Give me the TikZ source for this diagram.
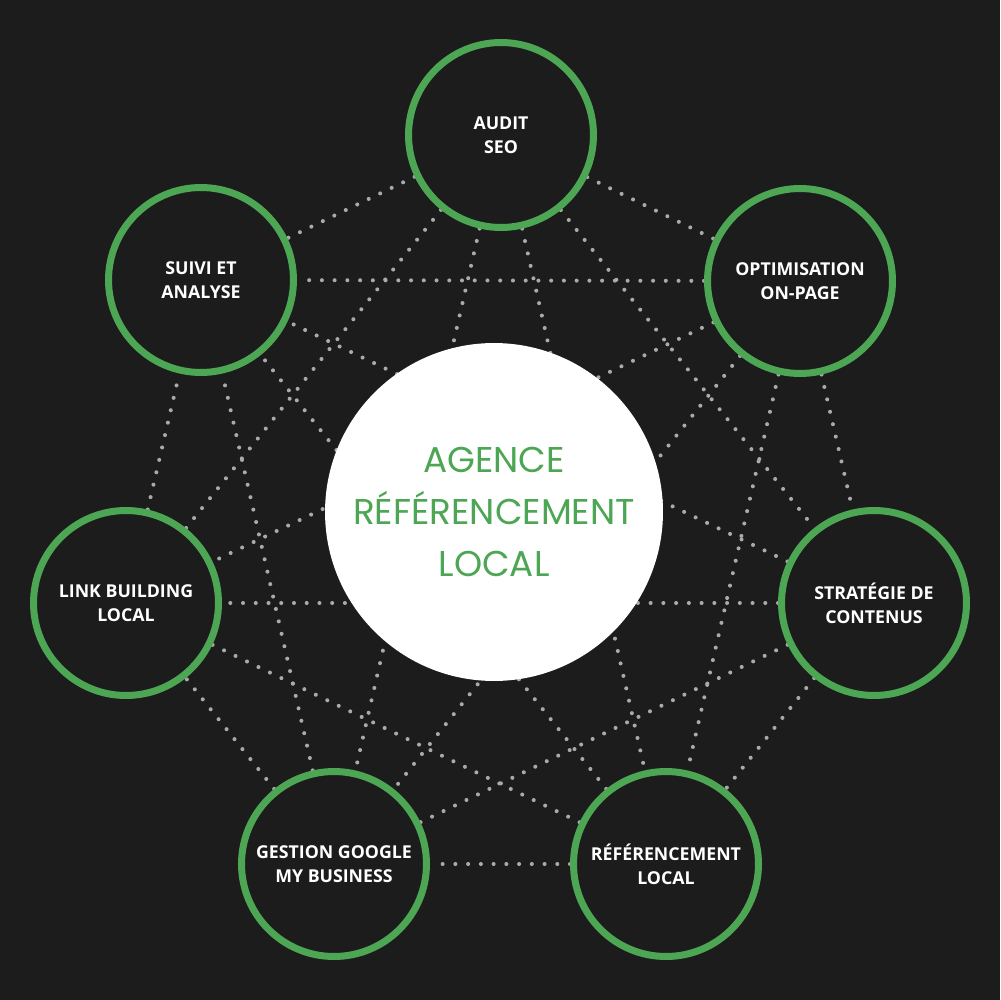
\documentclass[tikz,border=0pt]{standalone}
\usepackage{fontspec}
\newfontfamily\labfont{Open Sans}
\newfontfamily\cenfont{Poppins}
\usetikzlibrary{backgrounds}
\definecolor{bgc}{RGB}{28,28,28}
\definecolor{grn}{RGB}{76,166,84}
\definecolor{dotc}{RGB}{170,170,170}
\begin{document}
\begin{tikzpicture}[x=0.02cm,y=-0.02cm,
  outer/.style={circle,draw=grn,line width=0.14cm,fill=bgc,minimum size=3.7cm,inner sep=0pt,align=center,text=white,font=\labfont\bfseries\fontsize{10.1}{13.6}\selectfont},
  hub/.style={circle,fill=white,minimum size=6.76cm,inner sep=0pt,align=center,text=grn,font=\cenfont\fontsize{20.4}{29.5}\selectfont},
  link/.style={draw=dotc,line width=2.3pt,line cap=round,dash pattern=on 0pt off 7.25pt}]
\useasboundingbox (0,0) rectangle (1000,1000);
\node[outer] (a) at (501,135) {AUDIT\\SEO};
\node[outer] (b) at (800,281) {OPTIMISATION\\ON-PAGE};
\node[outer] (c) at (874,603) {STRATÉGIE DE\\CONTENUS};
\node[outer] (d) at (666,864) {RÉFÉRENCEMENT\\LOCAL};
\node[outer] (e) at (334,864) {GESTION GOOGLE\\MY BUSINESS};
\node[outer] (f) at (126,603) {LINK BUILDING\\LOCAL};
\node[outer] (g) at (201,280) {SUIVI ET\\ANALYSE};
\node[hub] (h) at (494,512) {AGENCE\\RÉFÉRENCEMENT\\LOCAL};
\begin{scope}[on background layer]
\fill[bgc] (0,0) rectangle (1000,1000);
\foreach \u/\v in {a/b,a/c,a/d,a/e,a/f,a/g,b/c,b/d,b/e,b/f,b/g,c/d,c/e,c/f,c/g,d/e,d/f,d/g,e/f,e/g,f/g}
  \draw[link] (\u) -- (\v);
\end{scope}
\end{tikzpicture}
\end{document}
